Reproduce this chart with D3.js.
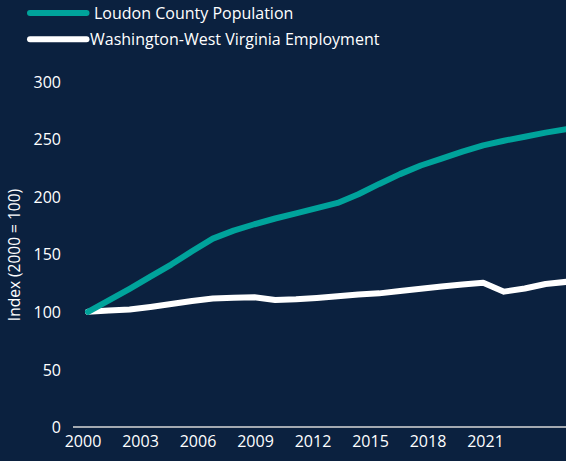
<!DOCTYPE html>
<html>
<head>
<meta charset="utf-8">
<script src="https://cdn.jsdelivr.net/npm/d3@7"></script>
<style>
  html, body { margin: 0; padding: 0; background: #0b213f; overflow: hidden; }
  svg { display: block; }
  text { font-family: "Open Sans", "Noto Sans", sans-serif; fill: #ffffff; }
</style>
</head>
<body>
<svg id="chart" width="566" height="461"></svg>
<script>
const years = d3.range(2000, 2024);
const loudonPopulation = [100, 110, 120, 130.5, 141, 152.5, 163.5, 170.5, 176, 181, 185.5, 190, 194.5, 202, 211, 219.5, 227, 233, 239, 244.5, 248.5, 252, 255.5, 258.5];
const dcEmployment = [100, 101.1, 102, 104.2, 106.8, 109.4, 111.5, 112.2, 112.6, 110.2, 110.8, 112, 113.5, 115, 116, 118, 120, 122, 123.7, 125.3, 117.5, 120.2, 124.1, 126];
const xTickLabels = [2000, 2003, 2006, 2009, 2012, 2015, 2018, 2021];
const yTickLabels = [0, 50, 100, 150, 200, 250, 300];
const seriesNames = ["Loudon County Population", "Washington-West Virginia Employment"];
const seriesColors = ["#00a39b", "#ffffff"];

const svg = d3.select("#chart");
const W = 566, H = 461;
const FONT = '"Open Sans", "Noto Sans", sans-serif';

const y = d3.scaleLinear().domain([0, 300]).range([427, 81.4]);
const xLine = d3.scaleLinear().domain([2000, 2023]).range([88, 566.4]);
const xAxisLabels = d3.scaleLinear().domain([2000, 2021]).range([82.5, 485]);

// y tick labels
const yAxis = d3.axisLeft(y).tickValues(yTickLabels).tickSize(0).tickPadding(0);
const gy = svg.append("g").attr("transform", "translate(61,0)").call(yAxis);
gy.select(".domain").remove();
gy.selectAll("text").attr("fill", "#ffffff").style("font-size", "16px")
  .style("font-family", FONT).attr("dy", "0.36em");

// x axis baseline
svg.append("line").attr("x1", 73).attr("x2", W).attr("y1", y(0)).attr("y2", y(0))
  .attr("stroke", "#d9d9d9").attr("stroke-width", 1.6);

// x tick labels
const xAxis = d3.axisBottom(xAxisLabels).tickValues(xTickLabels).tickFormat(d3.format("d")).tickSize(0).tickPadding(0);
const gx = svg.append("g").attr("transform", "translate(0,441)").call(xAxis);
gx.select(".domain").remove();
gx.selectAll("text").attr("fill", "#ffffff").style("font-size", "16px")
  .style("font-family", FONT).attr("dy", "0.36em");

// y axis title
svg.append("text").attr("transform", "translate(14.5,255) rotate(-90)")
  .attr("text-anchor", "middle").attr("dy", "0.36em").style("font-size", "15.5px")
  .text("Index (2000 = 100)");

// lines
const line = d3.line().x((d, i) => xLine(years[i])).y(d => y(d)).curve(d3.curveLinear);
svg.append("clipPath").attr("id", "clip").append("rect")
  .attr("x", 0).attr("y", 0).attr("width", W).attr("height", H);
const g = svg.append("g").attr("clip-path", "url(#clip)");
[dcEmployment, loudonPopulation].forEach((data, k) => {
  const idx = k === 0 ? 1 : 0;
  g.append("path").datum(data).attr("d", line)
    .attr("fill", "none").attr("stroke", seriesColors[idx]).attr("stroke-width", 6)
    .attr("stroke-linejoin", "round").attr("stroke-linecap", "round");
});

// legend
const legendY = [13, 39.3];
const legendTextX = [94, 90];
seriesNames.forEach((name, i) => {
  svg.append("line").attr("x1", 30).attr("x2", 86.5).attr("y1", legendY[i]).attr("y2", legendY[i])
    .attr("stroke", seriesColors[i]).attr("stroke-width", 6).attr("stroke-linecap", "round");
  svg.append("text").attr("x", legendTextX[i]).attr("y", legendY[i]).attr("dy", "0.36em")
    .style("font-size", "16px").text(name);
});
</script>
</body>
</html>
